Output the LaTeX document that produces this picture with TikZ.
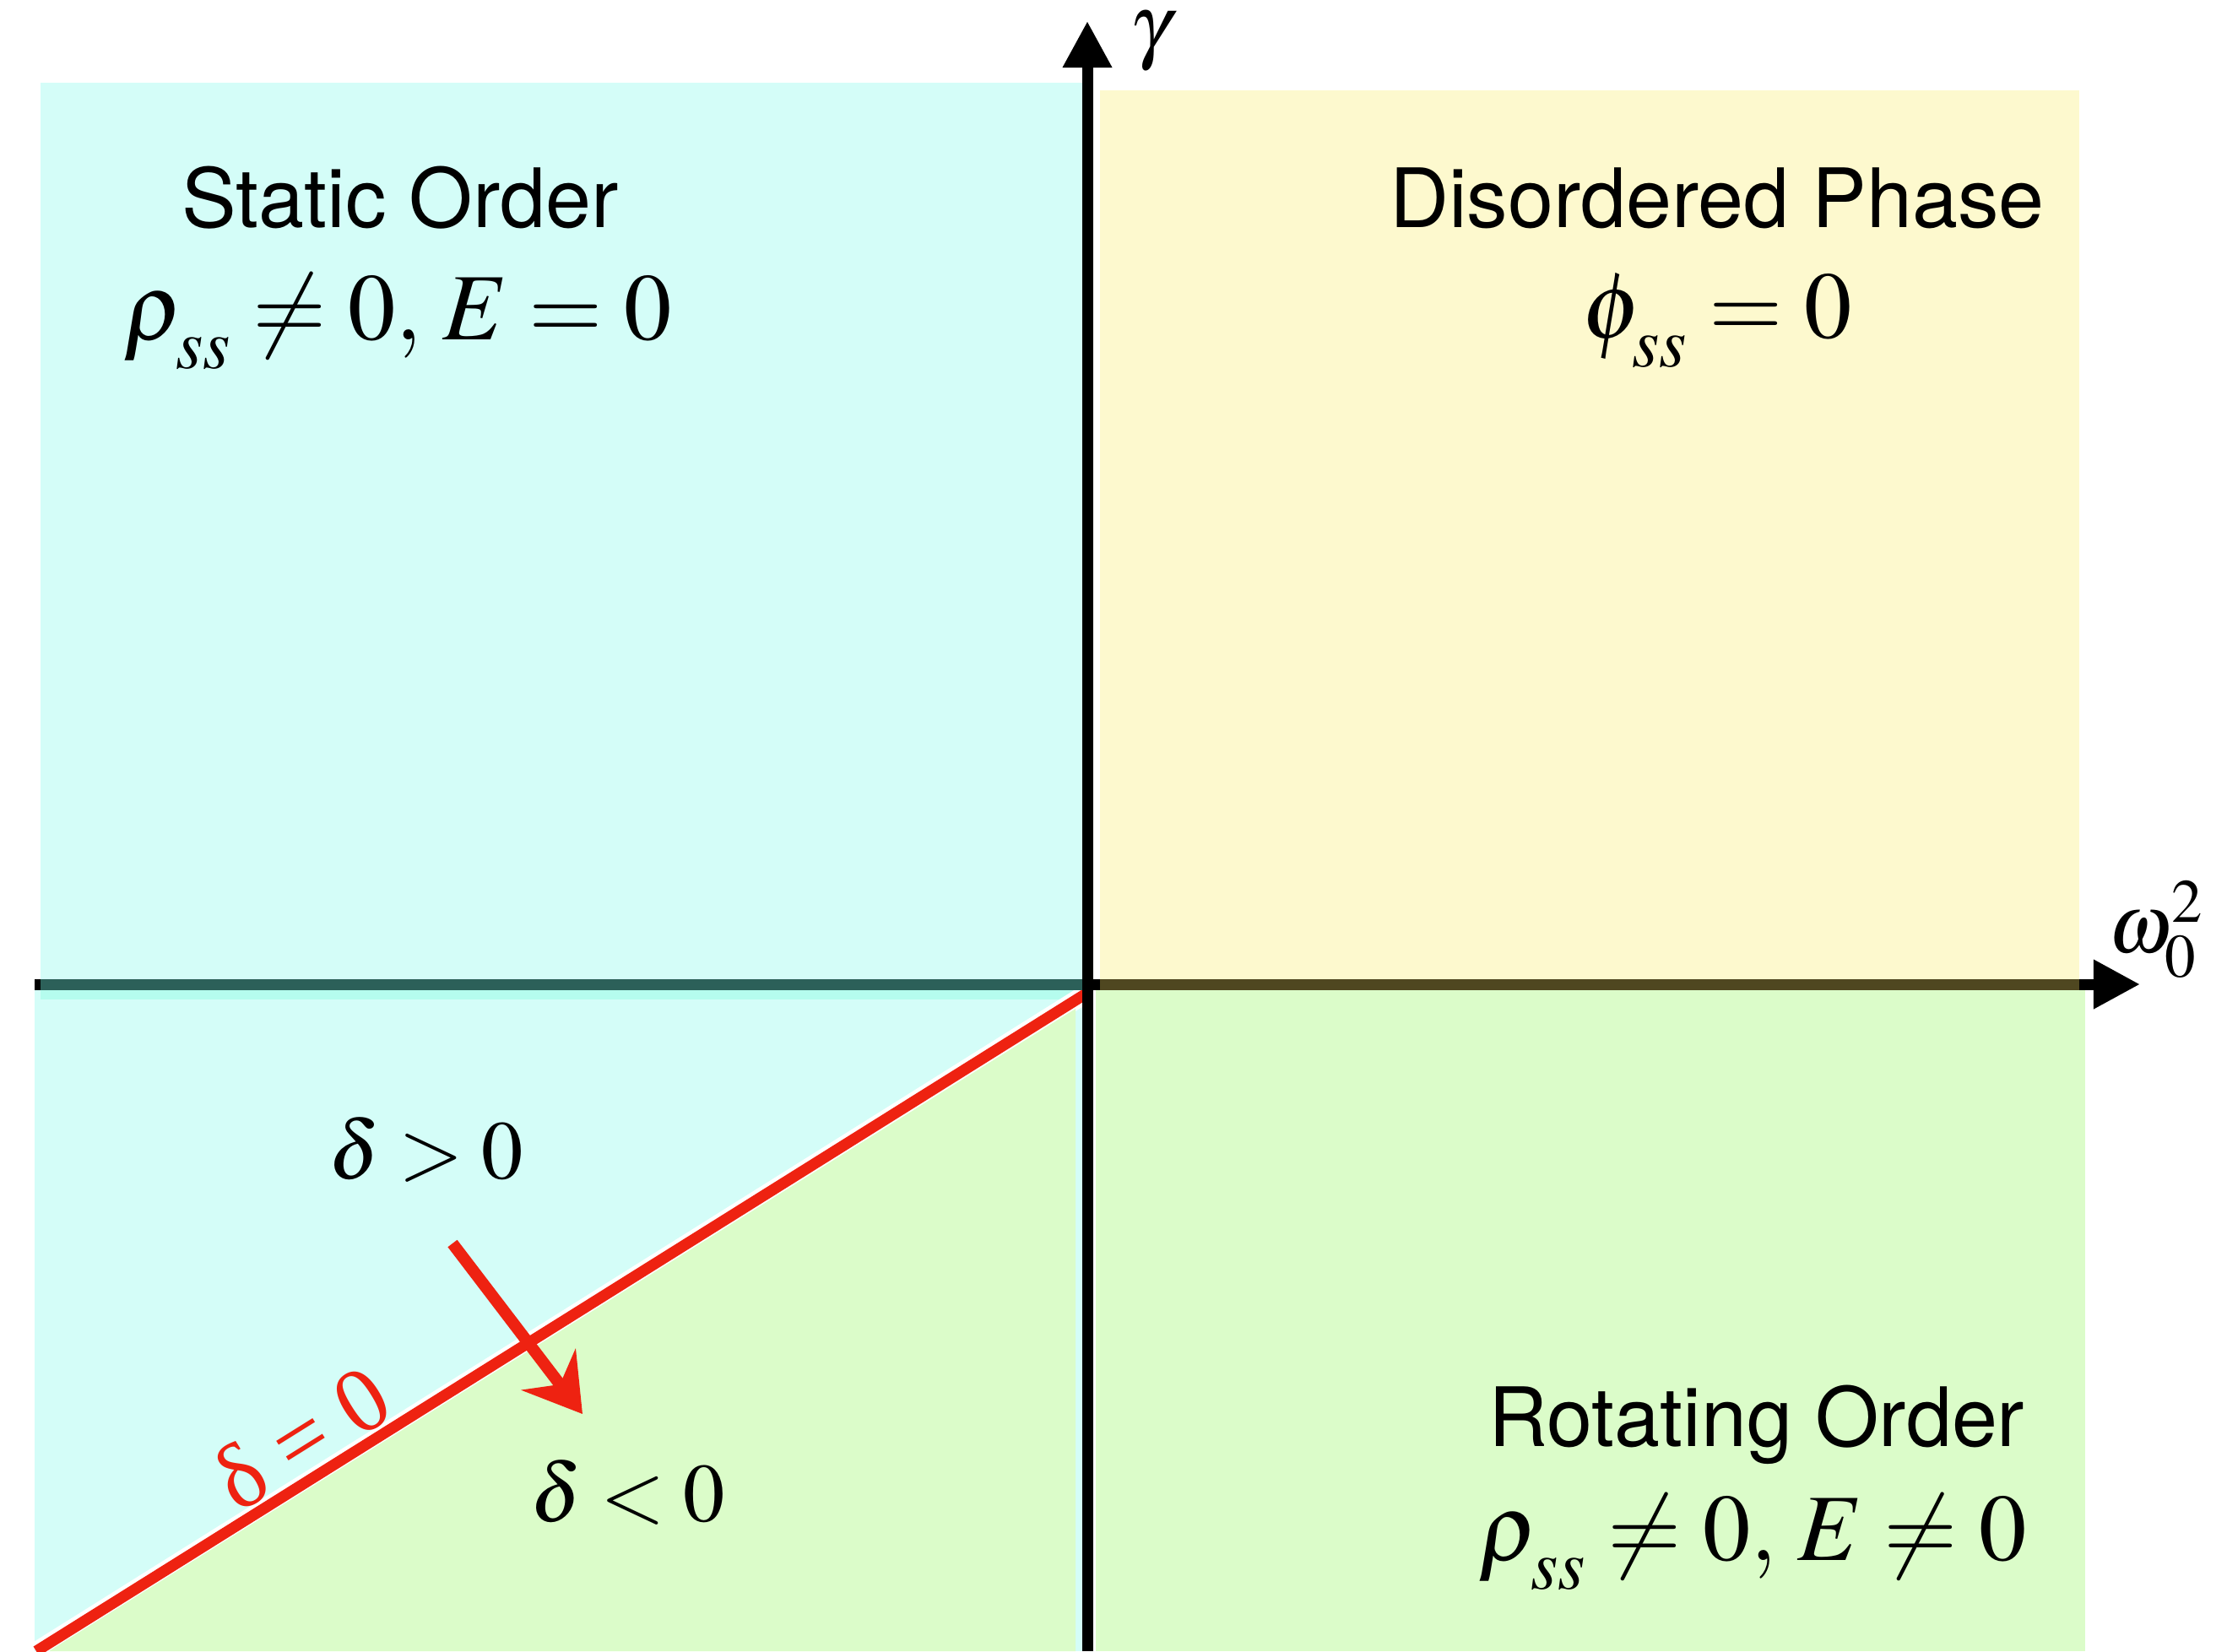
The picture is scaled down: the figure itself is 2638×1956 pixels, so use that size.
\documentclass[tikz,border=0pt]{standalone}
\usepackage{mathptmx}
\usepackage[no-math]{fontspec}
\setmainfont{Liberation Serif}
\setsansfont{TeX Gyre Heros}
\newfontfamily\grkfont{Liberation Serif}
\usetikzlibrary{arrows.meta}

\definecolor{staticbg}{RGB}{212,253,248}
\definecolor{staticdk}{RGB}{181,252,238}
\definecolor{disorderbg}{RGB}{253,249,206}
\definecolor{rotatebg}{RGB}{219,252,201}
\definecolor{deltared}{RGB}{238,34,17}
\definecolor{axisteal}{RGB}{44,96,89}
\definecolor{axisolive}{RGB}{79,71,32}

% steady-state subscript, set a little lower
\newcommand{\sslow}{_{\raisebox{-0.16em}{$\scriptstyle ss$}}}

\tikzset{
  phase/.style={font=\sffamily\fontsize{27.6}{34}\selectfont, anchor=base, inner sep=0pt},
  cond/.style={font=\fontsize{32}{38}\selectfont, anchor=base, inner sep=0pt},
  dlabel/.style={font=\fontsize{28}{34}\selectfont, anchor=base, inner sep=0pt},
  axislabel/.style={font=\fontsize{28}{34}\selectfont, inner sep=0pt},
  axis/.style={line width=0.13cm, -{Triangle[width=0.55cm,length=0.55cm]}},
  band/.style={line width=0.13cm},
}

\begin{document}
\begin{tikzpicture}[x=0.01cm,y=-0.01cm]
\useasboundingbox (0,0) rectangle (2638,1956);
% phase regions
\fill[staticbg] (48,98) rectangle (1282,1160);
\fill[staticbg] (41,1173) rectangle (1282,1956);
\fill[staticdk] (48,1173) rectangle (1282,1184);
\fill[disorderbg] (1303,107) rectangle (2463,1160);
\fill[rotatebg] (1298,1172) rectangle (2470,1956);
% delta = 0 boundary
\coordinate (dtop) at (1285,1178);
\coordinate (dbot) at (43,1956);
\draw[white, line width=0.22cm] (dtop) -- (dbot);
\fill[rotatebg] (1274,1195) -- (1274,1956) -- (58,1956) -- cycle;
\draw[deltared, line width=0.13cm] (dtop) -- (dbot);
% crossing arrow
\coordinate (astart) at (536,1473);
\coordinate (aend) at (690,1675);
\draw[deltared, line width=0.14cm, -{Stealth[length=0.66cm,width=0.8cm,inset=0.22cm]}] (astart) -- (aend);
% axes
\coordinate (xl) at (41,1166);
\coordinate (xr) at (2535,1166);
\coordinate (yb) at (1288,1956);
\coordinate (yt) at (1288,25);
\coordinate (tealL) at (48,1166);
\coordinate (tealR) at (1282,1166);
\coordinate (oliveL) at (1303,1166);
\coordinate (oliveR) at (2463,1166);
\draw[axis] (xl) -- (xr);
\draw[band, axisteal] (tealL) -- (tealR);
\draw[band, axisolive] (oliveL) -- (oliveR);
\draw[axis] (yb) -- (yt);
\node[axislabel] (ylab) at (1363,49) {$\gamma$};
\node[axislabel] (xlab) at (2554,1101) {$\omega_0^2$};
% labels
\node[phase] (static) at (474,269) {Static Order};
\node[cond] (staticeq) at (471,402) {$\rho\sslow \neq 0,\, E = 0$};
\node[phase] (disorder) at (2034,269) {Disordered Phase};
\node[cond] (disordereq) at (2034,400) {$\phi\sslow = 0$};
\node[phase] (rotate) at (2081,1713) {Rotating Order};
\node[cond] (rotateeq) at (2076,1848) {$\rho\sslow \neq 0,\, E \neq 0$};
\node[dlabel] (dpos) at (505,1396) {$\delta > 0$};
\node[dlabel] (dneg) at (744,1802) {$\delta < 0$};
\node[font=\grkfont\fontsize{31}{36}\selectfont, text=deltared, rotate=32, inner sep=0pt] (dzero) at (357,1703) {δ = 0};
\end{tikzpicture}
\end{document}
